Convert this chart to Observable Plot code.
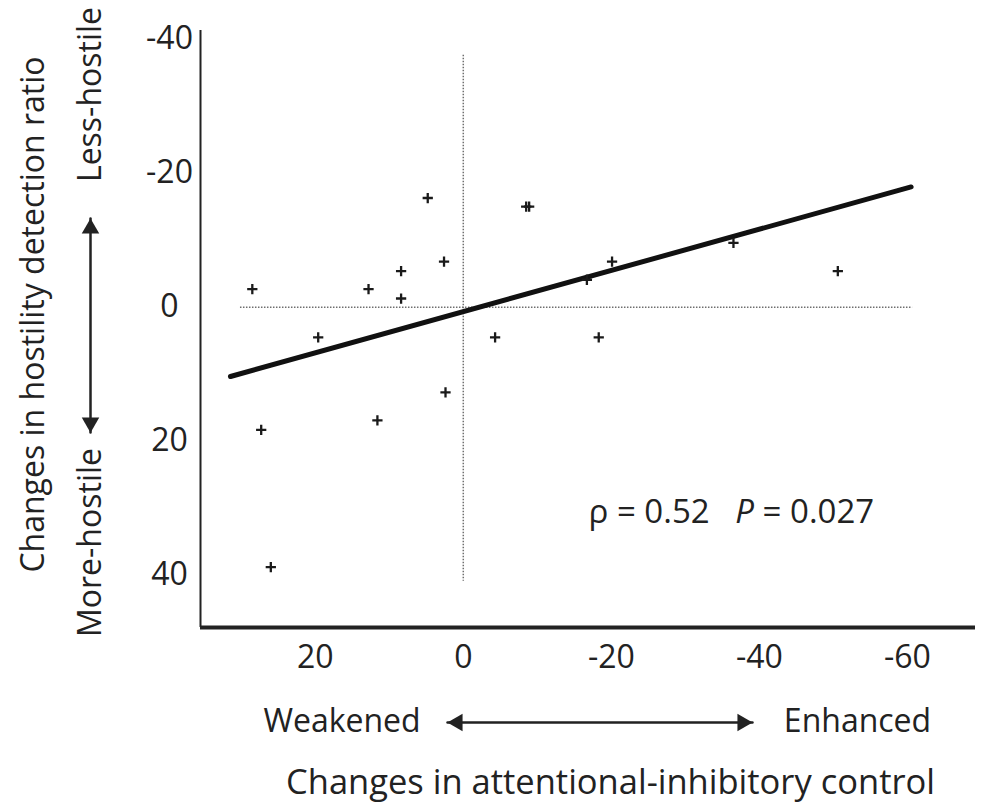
<!DOCTYPE html>
<html><head><meta charset="utf-8">
<script src="https://cdn.jsdelivr.net/npm/d3@7"></script>
<script src="https://cdn.jsdelivr.net/npm/@observablehq/plot@0.6"></script>
<style>body{margin:0;background:#fff;}</style>
</head><body><div id="chart"></div>
<script>
// Data: changes in attentional-inhibitory control (x) vs changes in hostility detection ratio (y)
const attnChange = [4.8, 2.6, 8.4, 28.5, 12.8, 8.4, 19.6, -4.3, 2.4, 11.6, 27.3, 26.0, -8.5, -8.9, -20.1, -16.7, -36.5, -50.6, -18.3];
const hostilityChange = [-16.3, -6.8, -5.4, -2.7, -2.7, -1.3, 4.5, 4.5, 12.7, 16.9, 18.3, 38.8, -15.0, -15.0, -6.8, -4.1, -9.6, -5.4, 4.5];
const xTicks = [20, 0, -20, -40, -60];
const yTicks = [-40, -20, 0, 20, 40];
const xDomain = [35.5, -69.2];
const yDomain = [47.8, -41.3];
const fitX = [31.45, -60.5];
const fitY = [10.34, -17.95];
const refHx = [30.1, -60.7];
const refVy = [-37.6, 40.9];
const statText = "ρ = 0.52   P = 0.027";
const xAxisTitle = "Changes in attentional-inhibitory control";
const yAxisTitle = "Changes in hostility detection ratio";
const xEnds = ["Weakened", "Enhanced"];
const yEnds = ["Less-hostile", "More-hostile"];
// decoration arrow endpoints (in scale units, outside the frame)
const xArrow = {x: [2.13, -39.07], y: 61.98};
const yArrow = {y: [-13.24, 18.7], x: 50.36};

const points = attnChange.map((x, i) => ({x, y: hostilityChange[i]}));
const fit = fitX.map((x, i) => ({x, y: fitY[i]}));
const ink = "#222";
const fs = 32;
const mid = {textAnchor: "middle", lineAnchor: "middle", fill: ink};

const chart = Plot.plot({
  width: 984, height: 805,
  marginLeft: 200, marginRight: 9, marginTop: 30, marginBottom: 178,
  style: {fontFamily: "'Open Sans', sans-serif", color: ink, background: "white"},
  x: {domain: xDomain},
  y: {domain: yDomain},
  marks: [
    Plot.ruleY([0], {x1: refHx[0], x2: refHx[1], stroke: "#6f6f6f", strokeWidth: 1.5, strokeDasharray: "1.5,1.5"}),
    Plot.ruleX([0], {y1: refVy[0], y2: refVy[1], stroke: "#6f6f6f", strokeWidth: 1.5, strokeDasharray: "1.5,1.5"}),
    Plot.ruleX([xDomain[0]], {stroke: ink, strokeWidth: 2}),
    Plot.ruleY([yDomain[0]], {stroke: ink, strokeWidth: 4}),
    Plot.axisX(xTicks, {tickSize: 0, tickPadding: 18, fontSize: fs, tickFormat: d => String(d), label: null}),
    Plot.axisY(yTicks, {tickSize: 0, tickPadding: 31, textAnchor: "middle", fontSize: fs, tickFormat: d => String(d), label: null}),
    Plot.line(fit, {x: "x", y: "y", stroke: "#111", strokeWidth: 5}),
    Plot.dot(points, {x: "x", y: "y", symbol: "plus", r: 3.4, stroke: "#1a1a1a", strokeWidth: 2.3}),
    // stats
    Plot.text([statText], {...mid, text: d => d, frameAnchor: "bottom", textAnchor: "start", dx: 0.5, dy: -115, fontSize: 33}),
    // x-direction arrow and labels
    Plot.line(xArrow.x.map(x => ({x, y: xArrow.y})), {x: "x", y: "y", stroke: ink, strokeWidth: 2.5, clip: false}),
    Plot.dot([xArrow.x[0]], {x: d => d, y: () => xArrow.y, symbol: "triangle", r: 6.5, fill: ink, rotate: -90, dx: 10}),
    Plot.dot([xArrow.x[1]], {x: d => d, y: () => xArrow.y, symbol: "triangle", r: 6.5, fill: ink, rotate: 90, dx: -10}),
    Plot.text([xEnds[0]], {...mid, text: d => d, frameAnchor: "bottom", dx: -246, dy: 94, fontSize: fs}),
    Plot.text([xEnds[1]], {...mid, text: d => d, frameAnchor: "bottom", dx: 269.5, dy: 94, fontSize: fs}),
    Plot.text([xAxisTitle], {...mid, text: d => d, frameAnchor: "bottom", dx: 22.5, dy: 155, fontSize: 34.5}),
    // y-direction arrow and labels
    Plot.line(yArrow.y.map(y => ({x: yArrow.x, y})), {x: "x", y: "y", stroke: ink, strokeWidth: 2.5}),
    Plot.dot([yArrow.y[0]], {x: () => yArrow.x, y: d => d, symbol: "triangle", r: 6.5, fill: ink, rotate: 0, dy: 10}),
    Plot.dot([yArrow.y[1]], {x: () => yArrow.x, y: d => d, symbol: "triangle", r: 6.5, fill: ink, rotate: 180, dy: -10}),
    Plot.text([yEnds[0]], {...mid, text: d => d, frameAnchor: "top-left", dx: -110, dy: 64, rotate: -90, fontSize: fs}),
    Plot.text([yEnds[1]], {...mid, text: d => d, frameAnchor: "bottom-left", dx: -110, dy: -85, rotate: -90, fontSize: fs}),
    Plot.text([yAxisTitle], {...mid, text: d => d, frameAnchor: "left", dx: -167, dy: -14.5, rotate: -90, fontSize: fs})
  ]
});

// italic P in the statistics label
for (const t of chart.querySelectorAll("text")) {
  if (t.textContent === statText) {
    const [a, b] = statText.split("P");
    t.textContent = "";
    t.setAttribute("style", "white-space:pre");
    const ns = "http://www.w3.org/2000/svg";
    const s1 = document.createElementNS(ns, "tspan"); s1.textContent = a;
    const s2 = document.createElementNS(ns, "tspan"); s2.textContent = "P"; s2.setAttribute("font-style", "italic");
    const s3 = document.createElementNS(ns, "tspan"); s3.textContent = b;
    t.append(s1, s2, s3);
  }
}
document.getElementById("chart").append(chart);
</script>
</body></html>
